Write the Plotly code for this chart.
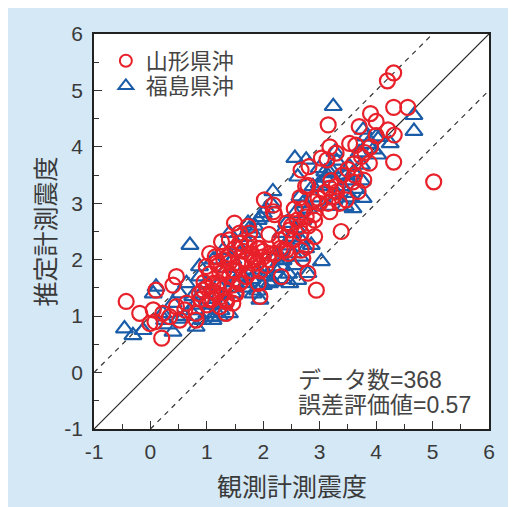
import plotly.graph_objects as go

# ---- data (observed, estimated seismic intensity) ----
yamagata_obs = [4.31, 4.20, 4.31, 4.56, 3.15, 3.90, 4.00, 3.70, 4.21, 4.32, 4.31, 5.02, 3.53, 3.64, 3.18,
                3.29, 3.74, 3.88, 3.03, 3.13, 2.67, 2.81, 3.78, 3.59, 3.68, 3.62, 3.18, 3.24, 3.15, 3.35,
                3.18, 3.29, 3.47, 2.88, 2.97, 2.79, 3.38, 2.94, 2.91, 2.76, 2.67, 2.47, 2.41, 2.64, 2.53,
                2.91, 2.76, 2.67, 2.70, 2.79, 2.41, 2.44, 2.29, 2.02, 2.18, 2.18, 2.32, 2.35, 2.11, 1.94,
                2.00, 1.82, 1.88, 1.91, 1.94, 1.70, 1.73, 1.49, 1.58, 1.76, 1.58, 1.40, 1.26, 1.37, 1.05,
                1.17, 0.99, 1.23, 1.46, 1.58, 1.52, 1.11, 0.93, 0.87, 1.17, 1.34, 1.46, 1.34, 1.05, 1.23,
                0.81, 0.81, 0.64, 0.61, 0.46, 0.40, 0.46, 0.34, 0.52, 0.05, 0.10, -0.01, 0.08, 0.20, -0.19,
                -0.43, 0.22,
                1.00, 1.10, 1.20, 1.30, 1.40, 1.50, 1.60, 1.70, 1.80, 1.90, 2.00, 1.20, 1.30, 1.40, 1.50,
                1.60, 1.10, 1.00, 0.90, 1.50, 1.60, 1.70, 1.80, 1.90, 2.10, 2.20, 1.25, 1.35, 1.45, 1.55,
                1.65, 1.75, 1.85, 1.95, 2.05, 1.15, 1.05, 0.95, 1.30, 1.40, 2.30, 2.40, 2.50, 2.60, 2.70,
                2.80, 2.90, 3.00, 3.10, 3.20, 3.30, 3.40, 3.50, 3.60, 3.80, 3.90, 4.00, 2.55, 2.65, 2.75,
                2.20, 2.10]
yamagata_est = [5.31, 5.17, 4.70, 4.70, 4.39, 4.59, 4.45, 4.36, 4.30, 4.21, 3.73, 3.38, 4.06, 4.03, 4.00,
                3.89, 3.83, 3.71, 3.80, 3.77, 3.59, 3.65, 3.41, 3.38, 3.21, 3.50, 3.27, 3.12, 3.00, 3.00,
                2.85, 3.30, 3.06, 3.03, 3.09, 3.32, 2.50, 1.46, 2.70, 2.76, 2.47, 2.53, 2.65, 2.59, 2.35,
                2.41, 2.23, 2.17, 2.02, 1.76, 2.17, 2.11, 2.35, 3.06, 2.97, 2.85, 1.70, 2.17, 2.11, 2.20,
                2.05, 2.05, 1.94, 1.58, 1.35, 1.99, 2.59, 2.65, 2.47, 2.47, 2.29, 2.35, 2.32, 2.05, 2.11,
                1.94, 1.88, 1.76, 1.82, 1.58, 1.40, 1.58, 1.46, 1.40, 1.40, 1.29, 1.23, 1.05, 1.29, 1.17,
                1.05, 0.93, 1.23, 1.11, 1.70, 1.55, 1.17, 0.99, 0.93, 1.11, 1.46, 0.87, 0.90, 0.61, 1.05,
                1.26, 1.05,
                1.50, 1.45, 1.60, 1.50, 1.70, 1.80, 1.90, 2.00, 2.10, 2.20, 2.15, 1.90, 2.00, 2.10, 2.20,
                2.30, 1.30, 1.20, 1.30, 1.40, 1.60, 1.70, 1.80, 1.95, 2.00, 2.10, 1.35, 1.25, 1.55, 1.95,
                2.15, 2.30, 2.00, 1.80, 1.90, 2.05, 1.75, 1.60, 1.80, 1.95, 2.20, 2.40, 2.60, 2.70, 2.90,
                2.60, 2.80, 3.00, 3.20, 3.40, 3.20, 3.50, 3.60, 3.70, 3.90, 4.00, 4.20, 2.90, 3.10, 3.30,
                2.80, 2.45]

fukushima_obs = [3.24, 4.67, 4.67, 4.25, 4.06, 4.03, 3.82, 3.27, 2.56, 2.76, 2.61, 2.99, 3.09, 3.18, 2.99,
                 2.88, 3.47, 3.53, 3.74, 3.77, 3.59, 3.47, 3.32, 2.65, 2.70, 2.17, 2.14, 2.56, 2.41, 2.32,
                 2.53, 1.91, 2.00, 1.73, 1.82, 1.40, 0.70, 3.03, 2.79, 2.61, 2.47, 2.32, 2.23, 2.17, 2.35,
                 1.94, 1.82, 1.70, 1.94, 1.46, 1.23, 1.40, 1.11, 0.93, 0.81, 0.64, 0.87, 0.99, 0.75, 0.40,
                 0.22, 0.25, 0.40, -0.13, -0.31, -0.46, 0.05, 0.10, 0.52, 0.87, 1.11, 1.29, 1.58, 1.46,
                 1.64, 1.82, 2.05, 2.11, 2.53, 2.67, 2.85, 3.77, 4.00,
                 0.90, 1.00, 1.10, 1.20, 1.30, 1.40, 1.50, 1.60, 1.70, 1.80, 1.90, 2.00, 2.10, 2.20, 2.30,
                 2.40, 2.50, 2.60, 2.70, 2.80, 2.90, 3.00, 3.10, 3.20, 3.30, 3.40, 3.50, 3.60, 3.70, 3.85,
                 3.95, 1.20, 1.35, 1.45, 1.55, 1.65, 1.75, 1.85, 1.95, 2.05, 0.70, 0.80, 0.60, 0.50, 0.30,
                 1.00, 1.10, 1.25, 2.35, 2.45, 2.55, 2.65, 2.75, 3.15, 3.25, 3.45, 3.55, 3.65, 3.75]
fukushima_est = [4.72, 4.56, 4.28, 4.06, 4.17, 3.86, 4.18, 3.91, 3.80, 3.77, 3.47, 3.62, 3.56, 3.53, 3.35,
                 3.30, 3.50, 3.65, 3.68, 3.09, 2.91, 3.18, 3.15, 3.12, 3.00, 3.21, 3.00, 2.82, 2.65, 2.47,
                 2.47, 2.70, 2.82, 2.65, 2.47, 2.47, 2.26, 1.97, 1.76, 1.64, 1.58, 1.88, 2.05, 1.61, 1.99,
                 1.29, 1.40, 1.58, 1.76, 1.40, 0.99, 1.05, 0.93, 0.93, 0.81, 1.58, 1.70, 1.58, 1.35, 1.23,
                 1.05, 0.93, 0.72, 0.75, 0.66, 0.78, 1.40, 1.52, 1.40, 1.88, 2.00, 2.17, 2.11, 2.00,
                 1.70, 1.82, 1.70, 1.58, 2.11, 2.35, 2.26, 4.30, 4.18,
                 1.40, 1.30, 1.20, 1.35, 1.20, 1.50, 1.60, 1.75, 1.50, 1.65, 1.45, 1.55, 1.70, 1.85, 2.00,
                 2.25, 2.40, 2.55, 2.70, 2.90, 3.10, 3.30, 3.45, 3.60, 3.75, 3.30, 3.40, 3.55, 3.90, 4.05,
                 3.95, 1.55, 1.85, 2.00, 2.25, 2.40, 2.55, 2.60, 2.75, 2.90, 1.10, 1.20, 1.00, 0.95, 0.85,
                 1.05, 0.98, 1.10, 1.65, 1.75, 1.90, 2.05, 2.20, 2.95, 3.05, 2.95, 3.10, 3.25, 3.40]

# reference lines: y = x, y = x + 1, y = x - 1
line_x = [-1, 6]
line_y = [-1, 6]
upper_x = [-1, 5]
upper_y = [0, 6]
lower_x = [0, 6]
lower_y = [-1, 5]

tick_vals = [-1, 0, 1, 2, 3, 4, 5, 6]
tick_text = ["-1", "0", "1", "2", "3", "4", "5", "6"]

series_names = ["山形県沖", "福島県沖"]
data_count = 368
error_value = 0.57

RED = "#e8202a"
BLUE = "#1b5ca8"
TXT = "#3a3a3a"
CJK = "Noto Sans CJK JP"
NUM = "Liberation Sans"

fig = go.Figure()
fig.add_trace(go.Scatter(x=line_x, y=line_y, mode="lines", line=dict(color="#222", width=1.2),
                         showlegend=False, hoverinfo="skip"))
fig.add_trace(go.Scatter(x=upper_x, y=upper_y, mode="lines", line=dict(color="#333", width=1.2, dash="5px,5px"),
                         showlegend=False, hoverinfo="skip"))
fig.add_trace(go.Scatter(x=lower_x, y=lower_y, mode="lines", line=dict(color="#333", width=1.2, dash="5px,5px"),
                         showlegend=False, hoverinfo="skip"))
fig.add_trace(go.Scatter(x=fukushima_obs, y=fukushima_est, mode="markers", name=series_names[1],
                         showlegend=False,
                         marker=dict(symbol="triangle-up-open", size=15, color=BLUE, line=dict(width=2.2, color=BLUE))))
fig.add_trace(go.Scatter(x=yamagata_obs, y=yamagata_est, mode="markers", name=series_names[0],
                         showlegend=False,
                         marker=dict(symbol="circle-open", size=15, color=RED, line=dict(width=2.2, color=RED))))
# legend-only entries (smaller symbols as in the original key)
fig.add_trace(go.Scatter(x=[None], y=[None], mode="markers", name=series_names[0], legend="legend",
                         marker=dict(symbol="circle-open", size=12, color=RED, line=dict(width=2, color=RED))))
fig.add_trace(go.Scatter(x=[None], y=[None], mode="markers", name=series_names[1], legend="legend2",
                         marker=dict(symbol="triangle-up-open", size=13, color=BLUE, line=dict(width=2, color=BLUE))))

axis_common = dict(range=[-1, 6], tickvals=tick_vals, ticktext=tick_text, ticks="inside", ticklen=8,
                   tickwidth=1.2, tickcolor="#333", showline=True, linecolor="#222", linewidth=1.5,
                   mirror=True, showgrid=False, zeroline=False,
                   tickfont=dict(family=NUM, size=21, color=TXT),
                   minor=dict(dtick=0.5, ticks="inside", ticklen=5, tickwidth=1.2, tickcolor="#333"))

PW = 395.0  # plot area size in px
leg_common = dict(x=0.03, xanchor="left", yanchor="middle", bgcolor="rgba(0,0,0,0)",
                  font=dict(family=CJK, size=22, color="#444"), itemwidth=30)

stats_text = (f"<span style='font-size:23px'>データ数<span style='font-family:{NUM}'>={data_count}</span></span><br>"
              f"<span style='font-size:23px'>誤差評価値<span style='font-family:{NUM}'>={error_value}</span></span>")

fig.update_layout(
    width=508, height=499,
    margin=dict(l=86, r=27, t=26, b=78),
    paper_bgcolor="#d4e8f6", plot_bgcolor="white",
    xaxis=dict(**axis_common, ticklabelstandoff=3),
    yaxis=dict(**axis_common, ticklabelstandoff=5),
    showlegend=True,
    legend=dict(**leg_common, y=1 - 27 / PW),
    legend2=dict(**leg_common, y=1 - 52 / PW),
    annotations=[
        dict(text="観測計測震度", xref="paper", yref="paper", x=0.5, y=-56 / PW, xanchor="center",
             yanchor="middle", showarrow=False, font=dict(family=CJK, size=25, color=TXT)),
        dict(text="推定計測震度", xref="paper", yref="paper", x=-51 / PW, y=0.5, xanchor="center",
             yanchor="middle", textangle=-90, showarrow=False, font=dict(family=CJK, size=25, color=TXT)),
        dict(text=stats_text, xref="paper", yref="paper",
             x=203 / PW, y=1 - 356 / PW, borderpad=0,
             xanchor="left", yanchor="middle", align="left", showarrow=False,
             font=dict(family=CJK, size=19, color="#444")),
    ],
)

fig.write_html("out.html")
